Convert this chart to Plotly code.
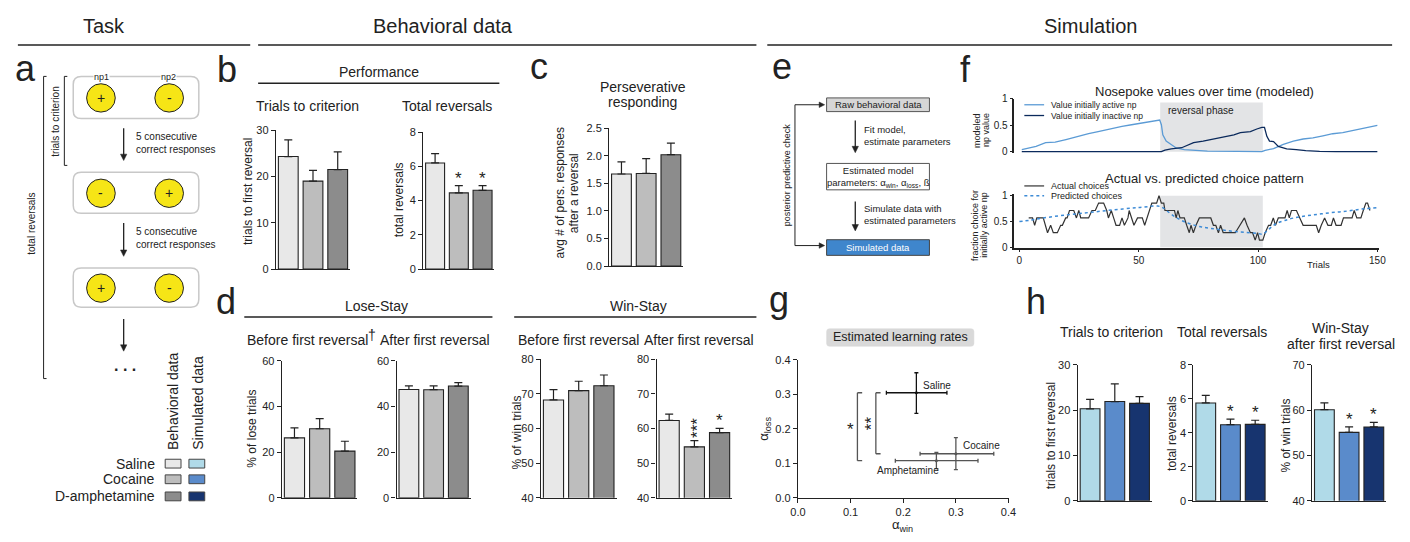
import math
import plotly.graph_objects as go

W, H = 1410, 542
FONT = "Liberation Sans, Arial, Helvetica, sans-serif"
INK = "#222222"

# ---------------- data ----------------
groups = ["Saline", "Cocaine", "D-amphetamine"]
behav_colors = ["#e8e8e8", "#bdbdbd", "#8c8c8c"]
sim_colors = ["#b0dae8", "#5a8bcb", "#17346f"]

trials_to_criterion_beh = [24.3, 19.0, 21.5]
trials_to_criterion_beh_sem = [3.6, 2.3, 3.8]
total_reversals_beh = [6.2, 4.45, 4.6]
total_reversals_beh_sem = [0.55, 0.42, 0.28]
perseverative_beh = [1.67, 1.68, 2.02]
perseverative_beh_sem = [0.22, 0.27, 0.21]
lose_stay_before = [26.3, 30.3, 20.5]
lose_stay_before_sem = [4.4, 4.4, 4.3]
lose_stay_after = [47.5, 47.4, 49.0]
lose_stay_after_sem = [1.6, 1.7, 1.5]
win_stay_before = [68.2, 70.9, 72.3]
win_stay_before_sem = [3.0, 2.7, 3.1]
win_stay_after = [62.3, 54.7, 58.8]
win_stay_after_sem = [1.8, 1.8, 1.2]

trials_to_criterion_sim = [20.3, 21.9, 21.5]
trials_to_criterion_sim_sem = [2.1, 3.9, 1.5]
total_reversals_sim = [5.76, 4.48, 4.5]
total_reversals_sim_sem = [0.45, 0.33, 0.24]
win_stay_after_sim = [60.1, 55.1, 56.3]
win_stay_after_sim_sem = [1.5, 1.2, 1.0]

# panel g: estimated learning rates
lr_groups = ["Saline", "Cocaine", "Amphetamine"]
lr_colors = ["#111111", "#555555", "#555555"]
alpha_win = [0.225, 0.300, 0.263]
alpha_win_lo = [0.057, 0.068, 0.078]
alpha_win_hi = [0.058, 0.072, 0.079]
alpha_loss = [0.305, 0.128, 0.108]
alpha_loss_lo = [0.060, 0.046, 0.023]
alpha_loss_hi = [0.058, 0.047, 0.024]

# panel f: modelled nosepoke values and choice pattern
reversal_start, reversal_end = 59, 102
active_np_trials = [1, 3.5, 7, 11, 15, 19.5, 25, 29, 33, 38.5, 43, 47, 51, 55.5, 58.8, 59.5, 60.1, 61.5,
                    63.6, 65.7, 69.1, 73.3, 78.8, 91.2, 101.6, 103, 106.5, 110.6, 114.8, 118.9, 123,
                    127.2, 131.3, 135.5, 139.6, 143.8, 147.9, 150]
active_np_value = [0.04, 0.07, 0.10, 0.17, 0.18, 0.23, 0.30, 0.34, 0.38, 0.44, 0.48, 0.51, 0.54, 0.57,
                   0.60, 0.51, 0.32, 0.20, 0.14, 0.07, 0.04, 0.025, 0.012, 0.006, 0.0, 0.025, 0.06,
                   0.14, 0.20, 0.24, 0.26, 0.30, 0.34, 0.36, 0.40, 0.44, 0.48, 0.50]
inactive_np_trials = [1, 59.5, 61, 63.6, 68, 70.5, 73, 77, 81.6, 85.7, 89.9, 92.6, 96.8, 99.5, 101.6,
                      102.7, 103.7, 104.8, 106.5, 108.5, 112, 116, 120, 125.8, 132.7, 150]
inactive_np_value = [0.0, 0.0, 0.03, 0.055, 0.075, 0.12, 0.17, 0.20, 0.24, 0.28, 0.32, 0.36, 0.38,
                     0.43, 0.46, 0.46, 0.29, 0.20, 0.19, 0.10, 0.055, 0.04, 0.02, 0.006, 0.0, 0.0]

actual_trials = [3.9, 5.5, 6.4, 7.3, 10.0, 11.0, 11.8, 13.1, 14.2, 15.9, 17.3, 18.0, 19.4, 20.0, 21.0,
                 22.8, 23.9, 24.9, 25.7, 29.0, 30.4, 31.8, 33.2, 35.3, 36.6, 37.3, 38.5, 39.5, 40.5,
                 42.0, 43.0, 44.0, 45.5, 46.0, 47.0, 48.0, 49.5, 51.5, 52.5, 53.5, 54.5, 55.5, 57.5,
                 58.5, 59.5, 60.5, 61.0, 65.0, 65.7, 66.4, 67.3, 69.1, 70.1, 71.2, 71.9, 72.9, 74.0,
                 75.4, 80.2, 81.3, 82.3, 83.4, 84.3, 85.4, 90.5, 92.3, 94.3, 95.4, 96.8, 97.7, 98.8,
                 99.8, 100.6, 102.0, 103.0, 104.4, 105.3, 106.4, 107.3, 108.5, 111.3, 112.2, 113.1,
                 114.0, 116.1, 117.5, 118.9, 124.4, 125.4, 126.5, 127.9, 129.3, 130.7, 131.6, 132.7,
                 134.8, 135.8, 139.4, 140.3, 141.4, 143.1, 144.1, 145.2, 145.9, 146.9]
actual_choice = [.571, .571, .429, .571, .571, .429, .286, .429, .286, .286, .429, .429, .571, .571, .714,
                 .714, .571, .714, .571, .571, .714, .714, .857, .857, .714, .571, .714, .571, .429,
                 .429, .571, .429, .571, .714, .571, .429, .571, .571, .429, .571, .714, .857, .857,
                 1.0, .857, .857, .714, .714, .571, .714, .571, .571, .429, .286, .429, .286, .429,
                 .571, .571, .429, .429, .286, .429, .286, .286, .429, .571, .429, .286, .286, .143,
                 .286, .143, .143, .286, .429, .429, .571, .429, .571, .571, .714, .571,
                 .714, .714, .571, .429, .429, .286, .429, .571, .429, .429, .571, .429,
                 .429, .571, .571, .714, .571, .571, .714, .857, .857, .714]
predicted_trials = [0, 5, 10, 20, 30, 40, 50, 58, 60, 62, 65, 68, 72, 76, 80, 85, 90, 95, 100, 102,
                    104, 106, 108, 111, 115, 120, 125, 130, 135, 140, 145, 150]
predicted_choice = [0.50, 0.53, 0.57, 0.63, 0.68, 0.73, 0.77, 0.80, 0.77, 0.70, 0.60, 0.52, 0.45, 0.40,
                    0.37, 0.34, 0.31, 0.29, 0.27, 0.26, 0.33, 0.41, 0.47, 0.52, 0.57, 0.61, 0.64, 0.67,
                    0.69, 0.72, 0.75, 0.77]


# ---------------- helpers ----------------
def PX(x):
    return x / W


def PY(y):
    return 1 - y / H


fig = go.Figure()
shapes, annots = [], []
axis_layout = {}
_n = [0]


def txt(x, y, s, size=12, xa="center", ya="middle", angle=0, color=INK, **kw):
    annots.append(dict(x=PX(x), y=PY(y), xref="paper", yref="paper", text=s, showarrow=False,
                       font=dict(family=FONT, size=size, color=color), xanchor=xa, yanchor=ya,
                       textangle=angle, **kw))


def line(x0, y0, x1, y1, color=INK, width=1.0, dash=None):
    shapes.append(dict(type="line", xref="paper", yref="paper", x0=PX(x0), y0=PY(y0), x1=PX(x1),
                       y1=PY(y1), line=dict(color=color, width=width, dash=dash)))


def rect(x0, y0, x1, y1, fill, lc=INK, lw=1.0):
    shapes.append(dict(type="rect", xref="paper", yref="paper", x0=PX(x0), y0=PY(y0), x1=PX(x1),
                       y1=PY(y1), fillcolor=fill, line=dict(color=lc, width=lw)))


def circle(cx, cy, r, fill, lc=INK, lw=1.0):
    shapes.append(dict(type="circle", xref="paper", yref="paper", x0=PX(cx - r), x1=PX(cx + r),
                       y0=PY(cy + r), y1=PY(cy - r), fillcolor=fill, line=dict(color=lc, width=lw)))


def P(x, y):
    return f"{PX(x):.5f},{PY(y):.5f}"


def rrect(x0, y0, x1, y1, r, fill, lc, lw=1.5):
    path = (f"M{P(x0 + r, y0)} L{P(x1 - r, y0)} Q{P(x1, y0)} {P(x1, y0 + r)} L{P(x1, y1 - r)} "
            f"Q{P(x1, y1)} {P(x1 - r, y1)} L{P(x0 + r, y1)} Q{P(x0, y1)} {P(x0, y1 - r)} "
            f"L{P(x0, y0 + r)} Q{P(x0, y0)} {P(x0 + r, y0)} Z")
    shapes.append(dict(type="path", xref="paper", yref="paper", path=path, fillcolor=fill,
                       line=dict(color=lc, width=lw)))


def arrow(xh, yh, xt, yt, color=INK, width=1.3, hl=6.5, hw=3.2):
    dx, dy = xh - xt, yh - yt
    L = math.hypot(dx, dy)
    ux, uy = dx / L, dy / L
    bx, by = xh - ux * hl, yh - uy * hl
    line(xt, yt, bx + ux * 1, by + uy * 1, color, width)
    nx, ny = -uy, ux
    path = f"M{P(xh, yh)} L{P(bx + nx * hw, by + ny * hw)} L{P(bx - nx * hw, by - ny * hw)} Z"
    shapes.append(dict(type="path", xref="paper", yref="paper", path=path, fillcolor=color,
                       line=dict(color=color, width=0.5)))


def new_axes(xdom, ydom, xcfg, ycfg):
    _n[0] += 1
    k = _n[0]
    s = "" if k == 1 else str(k)
    axis_layout["xaxis" + s] = dict(domain=[PX(xdom[0]), PX(xdom[1])], anchor="y" + s, **xcfg)
    axis_layout["yaxis" + s] = dict(domain=[PY(ydom[1]), PY(ydom[0])], anchor="x" + s, **ycfg)
    return "x" + s, "y" + s


def bar_panel(vals, sems, colors, left, spacing, top, bottom, yrange, dtick, fmt=None):
    xcfg = dict(range=[-0.5, 2.5], showline=True, linecolor=INK, linewidth=1.3,
                showticklabels=False, ticks="", showgrid=False, zeroline=False, fixedrange=True)
    ycfg = dict(range=yrange, tick0=yrange[0], dtick=dtick, showline=True, linecolor=INK,
                linewidth=1.3, ticks="outside", ticklen=4, tickwidth=1.2, tickcolor=INK,
                showgrid=False, zeroline=False, fixedrange=True,
                tickfont=dict(family=FONT, size=11, color=INK))
    if fmt:
        ycfg["tickformat"] = fmt
    xr, yr = new_axes((left, left + 3 * spacing), (top, bottom), xcfg, ycfg)
    fig.add_trace(go.Bar(x=[0, 1, 2], y=vals, width=0.8,
                         marker=dict(color=colors, line=dict(color=INK, width=1.1)),
                         error_y=dict(type="data", symmetric=False, array=sems,
                                      arrayminus=[0, 0, 0], color=INK, thickness=1.2, width=4),
                         xaxis=xr, yaxis=yr, showlegend=False, hoverinfo="skip"))
    return xr, yr


def star(xr, yr, i, vals, sems, text="*", rotate=False):
    annots.append(dict(xref=xr, yref=yr, x=i, y=vals[i] + sems[i], text=text, showarrow=False,
                       xanchor="center", yanchor="bottom",
                       font=dict(family=FONT, size=17, color=INK),
                       yshift=-4 if not rotate else 1, xshift=3 if rotate else 0,
                       textangle=-90 if rotate else 0))


# ---------------- headers ----------------
txt(97, 20, "Task", size=20)
txt(440, 20, "Behavioral data", size=20)
txt(1095, 20, "Simulation", size=20)
line(10, 40, 245, 40, width=1.5)
line(253, 40, 757, 40, width=1.5)
line(768, 40, 1400, 40, width=1.5)

# panel letters
for letter, x, y in [("a", 18, 64), ("b", 222, 65), ("c", 537, 62), ("d", 220, 302),
                     ("e", 783, 62), ("f", 968, 65), ("g", 780, 300), ("h", 1040, 302)]:
    txt(x, y, letter, size=36)

# ---------------- panel a ----------------
box_rows = [(72, 115, "+", "-"), (170, 212, "-", "+"), (268, 308, "+", "-")]
for y0, y1, s1, s2 in box_rows:
    rrect(66, y0, 193, y1, 8, "white", "#c8c8c8", 1.5)
    cy = (y0 + y1) / 2 + 0.5
    circle(94, cy, 14.5, "#f6e516", INK, 1.0)
    circle(163, cy, 14.5, "#f6e516", INK, 1.0)
    txt(94, cy, s1, size=14)
    txt(163, cy, s2, size=14)
txt(95, 73, "np1", size=9, bgcolor="white", borderpad=0)
txt(162, 73, "np2", size=9, bgcolor="white", borderpad=0)
for ya, yb, ty in [(125, 158, 140), (222, 256, 237)]:
    arrow(117, yb, 117, ya)
    txt(127, ty, "5 consecutive<br>correct responses", size=10, xa="left", align="left")
arrow(117, 353, 117, 320)
txt(118, 368, "<b>. . .</b>", size=16)
# brackets
line(57, 72, 57, 163, width=1)
line(57, 72, 60, 72, width=1)
line(57, 163, 60, 163, width=1)
txt(48, 118, "trials to criterion", size=10, angle=-90)
line(36, 72, 36, 381, width=1)
line(36, 72, 39, 72, width=1)
line(36, 381, 39, 381, width=1)
txt(23, 223, "total reversals", size=10, angle=-90)

# legend
txt(167, 456, "Behavioral data", size=14, angle=-90, ya="bottom")
txt(192, 456, "Simulated data", size=14, angle=-90, ya="bottom")
for i, (g, yc) in enumerate(zip(groups, [468, 484, 501.5])):
    txt(151, yc, g, size=14, xa="right")
    rect(159, yc - 4.5, 175, yc + 4.5, behav_colors[i], "#444", 1)
    rect(183, yc - 4.5, 199, yc + 4.5, sim_colors[i], "#444", 1)

# ---------------- panel b ----------------
txt(375, 67, "Performance", size=14)
line(253, 79, 497, 79, width=1.5)
txt(303, 102, "Trials to criterion", size=14)
txt(444, 102, "Total reversals", size=14)
bar_panel(trials_to_criterion_beh, trials_to_criterion_beh_sem, behav_colors, 271, 25, 127, 269,
          [0, 30], 10)
txt(243, 190, "trials to first reversal", size=12, angle=-90)
xr, yr = bar_panel(total_reversals_beh, total_reversals_beh_sem, behav_colors, 420, 24, 129, 269,
                   [0, 8], 2)
star(xr, yr, 1, total_reversals_beh, total_reversals_beh_sem)
star(xr, yr, 2, total_reversals_beh, total_reversals_beh_sem)
txt(395, 198, "total reversals", size=12, angle=-90)

# ---------------- panel c ----------------
txt(642, 83, "Perseverative", size=14)
txt(642, 98, "responding", size=14)
bar_panel(perseverative_beh, perseverative_beh_sem, behav_colors, 608, 25, 125, 266, [0, 2.5], 0.5,
          fmt=".1f")
txt(558, 191, "avg # of pers. responses", size=12, angle=-90)
txt(572, 192, "after a reversal", size=12, angle=-90)

# ---------------- panel d ----------------
txt(373, 307, "Lose-Stay", size=14)
line(239, 318, 490, 318, width=1.5)
txt(638, 307, "Win-Stay", size=14)
line(512, 318, 757, 318, width=1.5)
txt(303, 342, "Before first reversal", size=14)
txt(368, 336, "†", size=14)
txt(432, 342, "After first reversal", size=14)
txt(577, 342, "Before first reversal", size=14)
txt(699, 342, "After first reversal", size=14)
bar_panel(lose_stay_before, lose_stay_before_sem, behav_colors, 277, 25.5, 363, 503, [0, 60], 20)
txt(247, 432, "% of lose trials", size=12, angle=-90)
bar_panel(lose_stay_after, lose_stay_after_sem, behav_colors, 393, 25, 363, 503, [0, 60], 20)
bar_panel(win_stay_before, win_stay_before_sem, behav_colors, 539, 25.5, 361, 503, [40, 80], 10)
txt(515, 436, "% of win trials", size=12, angle=-90)
xr, yr = bar_panel(win_stay_after, win_stay_after_sem, behav_colors, 656, 25.5, 361, 503, [40, 80], 10)
star(xr, yr, 1, win_stay_after, win_stay_after_sem, "***", rotate=True)
star(xr, yr, 2, win_stay_after, win_stay_after_sem)

# ---------------- panel e ----------------
rect(828, 94, 932, 108, "#d6d6d6", "#555", 1)
txt(880, 101, "Raw behavioral data", size=9.5)
arrow(857, 150, 857, 117)
txt(864, 132.5, "Fit model,<br>estimate parameters", size=9.5, xa="left", align="left")
rect(828, 161, 932, 188, "white", "#555", 1)
txt(880, 174.5, "Estimated model<br>parameters: α<sub>win</sub>, α<sub>loss</sub>, ß", size=9.5)
arrow(857, 230, 857, 200)
txt(864, 213, "Simulate data with<br>estimated parameters", size=9.5, xa="left", align="left")
rect(828, 239, 932, 255, "#3f86cc", "#444", 1)
txt(880, 247, "Simulated data", size=9.5, color="white")
line(796, 101, 796, 245, width=1)
arrow(826, 101, 796, 101, width=1, hl=5.5, hw=2.8)
arrow(826, 245, 796, 245, width=1, hl=5.5, hw=2.8)
txt(788, 173, "posterior predictive check", size=9, angle=-90)

# ---------------- panel f ----------------
fx_range = [-2.07, 150.8]
xr_t, yr_t = new_axes((1018, 1387), (95, 150.6),
                      dict(range=fx_range, showline=False, showticklabels=False, ticks="",
                           showgrid=False, zeroline=False, fixedrange=True),
                      dict(range=[-0.03, 1], tickvals=[0, 0.5, 1], ticktext=["0", "0.5", "1"],
                           showline=True, linecolor=INK, linewidth=1.6, ticks="outside",
                           ticklen=3, tickcolor=INK, showgrid=False, zeroline=False,
                           fixedrange=True, tickfont=dict(family=FONT, size=10, color=INK)))
shapes.append(dict(type="rect", xref=xr_t, yref=yr_t, x0=reversal_start, x1=reversal_end, y0=0,
                   y1=0.93, fillcolor="#e3e4e6", line=dict(width=0), layer="below"))
fig.add_trace(go.Scatter(x=active_np_trials, y=active_np_value, mode="lines",
                         line=dict(color="#5b9bd5", width=1.3), xaxis=xr_t, yaxis=yr_t,
                         showlegend=False, hoverinfo="skip"))
fig.add_trace(go.Scatter(x=inactive_np_trials, y=inactive_np_value, mode="lines",
                         line=dict(color="#0b2a5c", width=1.3), xaxis=xr_t, yaxis=yr_t,
                         showlegend=False, hoverinfo="skip"))
txt(1210, 87, "Nosepoke values over time (modeled)", size=13)
txt(1171, 107, "reversal phase", size=10, xa="left")
line(1028, 101, 1048, 101, color="#5b9bd5", width=1.3)
txt(1053, 101, "Value initially active np", size=8.5, xa="left")
line(1028, 112, 1048, 112, color="#0b2a5c", width=1.3)
txt(1053, 112, "Value initially inactive np", size=8.5, xa="left")
txt(980, 127, "modeled", size=9, angle=-90)
txt(989, 127, "np value", size=9, angle=-90)

xr_b, yr_b = new_axes((1018, 1387), (192.4, 247),
                      dict(range=fx_range, showline=True, linecolor=INK, linewidth=1.6,
                           tickvals=[0, 50, 100, 150], ticks="outside", ticklen=3, tickcolor=INK,
                           showgrid=False, zeroline=False, fixedrange=True,
                           tickfont=dict(family=FONT, size=10, color=INK)),
                      dict(range=[0, 1.03], tickvals=[0, 0.5, 1], ticktext=["0", "0.5", "1"],
                           showline=True, linecolor=INK, linewidth=1.6, ticks="outside",
                           ticklen=3, tickcolor=INK, showgrid=False, zeroline=False,
                           fixedrange=True, tickfont=dict(family=FONT, size=10, color=INK)))
shapes.append(dict(type="rect", xref=xr_b, yref=yr_b, x0=reversal_start, x1=reversal_end, y0=0,
                   y1=1, fillcolor="#e3e4e6", line=dict(width=0), layer="below"))
fig.add_trace(go.Scatter(x=actual_trials, y=actual_choice, mode="lines",
                         line=dict(color="#333333", width=1.2), xaxis=xr_b, yaxis=yr_b,
                         showlegend=False, hoverinfo="skip"))
fig.add_trace(go.Scatter(x=predicted_trials, y=predicted_choice, mode="lines",
                         line=dict(color="#3d8bd6", width=1.5, dash="dot", shape="spline"),
                         xaxis=xr_b, yaxis=yr_b, showlegend=False, hoverinfo="skip"))
txt(1210, 176, "Actual vs. predicted choice pattern", size=13)
line(1028, 184, 1048, 184, color="#333", width=1.2)
txt(1053, 184, "Actual choices", size=9, xa="left")
line(1028, 194, 1048, 194, color="#3d8bd6", width=1.5, dash="dot")
txt(1053, 194, "Predicted choices", size=9, xa="left")
txt(978, 224, "fraction choice for", size=9, angle=-90)
txt(987, 224, "initially active np", size=9, angle=-90)
txt(1326, 264, "Trials", size=9.5)

# ---------------- panel g ----------------
xr_g, yr_g = new_axes((799, 1012), (362, 503),
                      dict(range=[0, 0.4], dtick=0.1, tick0=0, tickformat=".1f", showline=True,
                           linecolor=INK, linewidth=1.3, ticks="outside", ticklen=4, tickcolor=INK,
                           showgrid=False, zeroline=False, fixedrange=True,
                           tickfont=dict(family=FONT, size=11, color=INK)),
                      dict(range=[0, 0.4], dtick=0.1, tick0=0, tickformat=".1f", showline=True,
                           linecolor=INK, linewidth=1.3, ticks="outside", ticklen=4, tickcolor=INK,
                           showgrid=False, zeroline=False, fixedrange=True,
                           tickfont=dict(family=FONT, size=11, color=INK)))
for i in range(3):
    fig.add_trace(go.Scatter(
        x=[alpha_win[i]], y=[alpha_loss[i]], mode="markers",
        marker=dict(color=lr_colors[i], size=3),
        error_x=dict(type="data", symmetric=False, array=[alpha_win_hi[i]],
                     arrayminus=[alpha_win_lo[i]], color=lr_colors[i], thickness=1.3, width=2),
        error_y=dict(type="data", symmetric=False, array=[alpha_loss_hi[i]],
                     arrayminus=[alpha_loss_lo[i]], color=lr_colors[i], thickness=1.3, width=2),
        xaxis=xr_g, yaxis=yr_g, showlegend=False, hoverinfo="skip"))
annots.append(dict(xref=xr_g, yref=yr_g, x=alpha_win[0] + 0.008, y=alpha_loss[0] + 0.022,
                   text="Saline", showarrow=False, xanchor="left",
                   font=dict(family=FONT, size=10, color=INK)))
annots.append(dict(xref=xr_g, yref=yr_g, x=alpha_win[1] + 0.01, y=alpha_loss[1] + 0.023,
                   text="Cocaine", showarrow=False, xanchor="left",
                   font=dict(family=FONT, size=10, color=INK)))
annots.append(dict(xref=xr_g, yref=yr_g, x=alpha_win[2] - 0.117, y=alpha_loss[2] - 0.028,
                   text="Amphetamine", showarrow=False, xanchor="left",
                   font=dict(family=FONT, size=10, color=INK)))
for bx, lo_idx, label, rot in [(0.113, 2, "*", False), (0.148, 1, "**", True)]:
    for (xa0, ya0, xa1, ya1) in [(bx, alpha_loss[lo_idx], bx, alpha_loss[0]),
                                 (bx, alpha_loss[lo_idx], bx + 0.009, alpha_loss[lo_idx]),
                                 (bx, alpha_loss[0], bx + 0.009, alpha_loss[0])]:
        shapes.append(dict(type="line", xref=xr_g, yref=yr_g, x0=xa0, y0=ya0, x1=xa1, y1=ya1,
                           line=dict(color="#555", width=1.3)))
    annots.append(dict(xref=xr_g, yref=yr_g, x=bx - 0.013, y=(alpha_loss[lo_idx] + alpha_loss[0]) / 2,
                       text=label, showarrow=False, textangle=-90 if rot else 0,
                       xshift=2 if rot else 0, yshift=-3 if not rot else 0,
                       font=dict(family=FONT, size=17, color=INK)))
rrect(828, 330, 977, 348, 3, "#d9d9d9", "#d9d9d9", 0.5)
txt(903, 339, "Estimated learning rates", size=12.5)
txt(905, 531, "α<sub>win</sub>", size=13)
txt(765, 432, "α<sub>loss</sub>", size=13, angle=-90)

# ---------------- panel h ----------------
txt(1116, 333, "Trials to criterion", size=14)
txt(1228, 333, "Total reversals", size=14)
txt(1348, 329, "Win-Stay", size=14)
txt(1348, 346, "after first reversal", size=14)
bar_panel(trials_to_criterion_sim, trials_to_criterion_sim_sem, sim_colors, 1082, 25, 367, 506,
          [0, 30], 10)
txt(1055, 440, "trials to first reversal", size=12, angle=-90)
xr, yr = bar_panel(total_reversals_sim, total_reversals_sim_sem, sim_colors, 1199, 25, 367, 506,
                   [0, 8], 2)
star(xr, yr, 1, total_reversals_sim, total_reversals_sim_sem)
star(xr, yr, 2, total_reversals_sim, total_reversals_sim_sem)
txt(1178, 437, "total reversals", size=12, angle=-90)
xr, yr = bar_panel(win_stay_after_sim, win_stay_after_sim_sem, sim_colors, 1319, 25, 367, 506,
                   [40, 70], 10)
star(xr, yr, 1, win_stay_after_sim, win_stay_after_sim_sem)
star(xr, yr, 2, win_stay_after_sim, win_stay_after_sim_sem)
txt(1293, 439, "% of win trials", size=12, angle=-90)

fig.update_layout(
    width=W, height=H, margin=dict(l=0, r=0, t=0, b=0, pad=0),
    paper_bgcolor="white", plot_bgcolor="rgba(0,0,0,0)",
    font=dict(family=FONT, color=INK), shapes=shapes, annotations=annots,
    showlegend=False, **axis_layout)

fig.write_html("out.html", config={"displayModeBar": False},
               post_script="document.body.style.margin='0';document.body.style.overflow='hidden';")
